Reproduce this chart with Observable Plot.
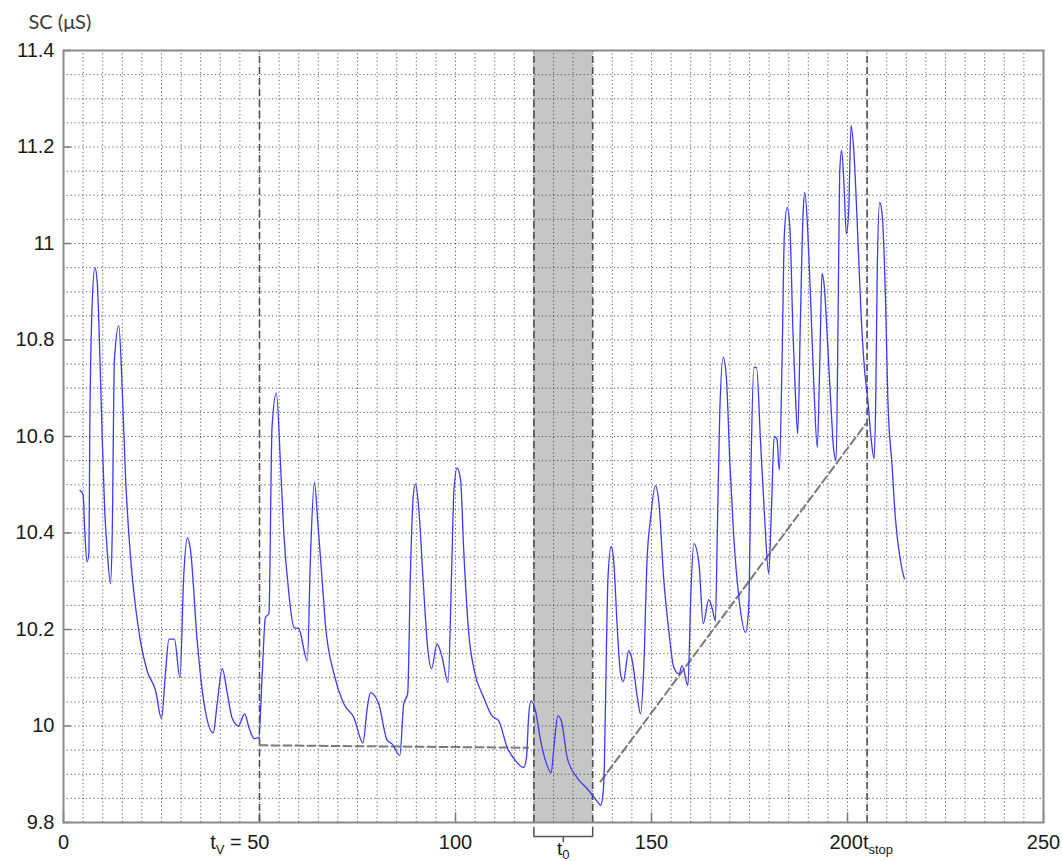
<!DOCTYPE html>
<html>
<head>
<meta charset="utf-8">
<script src="https://cdn.jsdelivr.net/npm/d3@7"></script>
<script src="https://cdn.jsdelivr.net/npm/@observablehq/plot@0.6"></script>
<style>
  html, body { margin: 0; padding: 0; background: #fff; }
  #chart svg { display: block; }
</style>
</head>
<body>
<div id="chart"></div>
<script>
// Skin conductance trace (time in s, SC in µS)
const timeS = [4.2,5.0,5.4,6.0,6.5,6.7,7.3,8.0,8.6,9.3,9.9,10.5,11.1,12.0,12.4,13.0,14.1,15.0,15.8,17.1,18.4,19.6,21.3,23.5,25.0,26.0,26.9,28.3,29.7,30.7,31.6,32.4,34.1,35.8,38.2,39.2,40.5,41.8,43.0,44.6,46.2,47.3,48.6,49.8,50.7,51.5,52.4,53.2,54.3,55.4,56.2,57.5,58.8,60.0,62.2,63.0,64.0,64.9,66.0,66.8,69.0,71.5,74.1,76.4,77.5,78.3,80.4,82.6,83.8,85.8,86.8,87.8,88.5,89.2,89.8,90.6,91.9,92.9,93.9,95.3,96.6,98.1,99.0,99.6,100.4,101.3,102.1,103.4,104.8,107.2,109.3,111.0,113.2,115.3,117.4,118.1,118.7,119.3,120.4,121.7,123.2,124.4,125.1,126.1,127.0,128.5,131.0,133.6,136.6,137.0,137.7,138.0,138.5,138.9,139.7,140.4,141.3,142.1,142.8,144.2,145.1,146.4,147.2,148.0,148.9,149.7,151.0,151.9,153.1,154.4,155.7,157.0,157.8,159.3,160.0,160.8,162.1,163.2,164.6,165.5,166.3,166.8,167.4,168.3,169.1,170.0,171.0,172.3,174.0,174.8,175.4,176.1,176.8,177.8,178.8,179.9,180.6,181.3,182.0,182.6,183.3,183.9,184.6,185.3,186.1,186.7,187.3,188.0,188.7,189.1,189.9,190.6,191.4,192.3,192.9,193.5,194.1,194.8,195.7,196.5,197.1,197.6,198.0,198.5,199.1,199.7,200.3,200.9,201.6,202.6,203.5,204.3,205.2,205.9,206.8,207.2,207.6,208.2,208.9,209.7,210.3,211.4,212.2,213.5,214.5];
const scValues = [10.488,10.48,10.41,10.34,10.36,10.61,10.87,10.95,10.92,10.76,10.59,10.45,10.37,10.295,10.385,10.76,10.83,10.695,10.52,10.35,10.245,10.177,10.115,10.073,10.015,10.108,10.18,10.18,10.10,10.316,10.39,10.364,10.177,10.05,9.986,10.046,10.119,10.067,10.017,10.0,10.025,9.997,9.974,9.976,10.108,10.225,10.233,10.62,10.69,10.535,10.40,10.274,10.204,10.202,10.135,10.35,10.505,10.42,10.30,10.212,10.108,10.046,10.017,9.965,10.038,10.069,10.046,9.97,9.963,9.939,10.046,10.067,10.316,10.474,10.502,10.453,10.28,10.162,10.119,10.17,10.142,10.09,10.316,10.488,10.535,10.509,10.364,10.19,10.115,10.059,10.021,10.011,9.955,9.928,9.914,9.934,10.025,10.052,10.032,9.97,9.922,9.903,9.955,10.021,10.011,9.934,9.893,9.87,9.839,9.835,9.866,9.928,10.162,10.307,10.372,10.337,10.198,10.108,10.092,10.156,10.135,10.059,10.025,10.115,10.35,10.426,10.498,10.461,10.307,10.198,10.121,10.108,10.125,10.084,10.266,10.378,10.337,10.212,10.262,10.243,10.218,10.405,10.647,10.764,10.722,10.544,10.39,10.266,10.194,10.245,10.544,10.743,10.743,10.592,10.44,10.316,10.45,10.60,10.595,10.53,10.755,11.02,11.075,11.033,10.813,10.689,10.606,10.847,11.068,11.106,11.02,10.882,10.71,10.577,10.743,10.938,10.909,10.813,10.675,10.571,10.55,10.847,11.145,11.193,11.124,11.02,11.068,11.245,11.193,11.02,10.847,10.743,10.675,10.606,10.554,10.675,10.95,11.085,11.054,10.882,10.675,10.536,10.432,10.343,10.305];

// Event markers and reference lines
const markerTimes = [50, 120, 135, 205];
const bandStart = 120, bandEnd = 135;
const baselineT = [50, 118.5];
const baselineSC = [9.96, 9.955];
const trendT = [137, 205];
const trendSC = [9.885, 10.63];
const bracketT = [120, 120, 135, 135];
const bracketSC = [9.79, 9.771, 9.771, 9.79];
const bracketMidT = [127.5];

// Axes
const xTicks = [0, 50, 100, 150, 200, 250];
const xTickLabels = ["0", "tV = 50", "100", "150", "200tstop", "250"];
const yTicks = [9.8, 10, 10.2, 10.4, 10.6, 10.8, 11, 11.2, 11.4];
const xGrid = d3.range(0, 251, 5);
const yGrid = d3.range(0, 33).map(i => 9.8 + i * 0.05);

const data = timeS.map((t, i) => ({t, sc: scValues[i]}));
const baseline = baselineT.map((t, i) => ({t, sc: baselineSC[i]}));
const trend = trendT.map((t, i) => ({t, sc: trendSC[i]}));
const bracket = bracketT.map((t, i) => ({t, sc: bracketSC[i]}));

const gridStyle = {stroke: "#444", strokeWidth: 1, strokeDasharray: "1.2,2.6", strokeOpacity: 0.85};

const chart = Plot.plot({
  width: 1062,
  height: 861,
  marginLeft: 63,
  marginRight: 19,
  marginTop: 50,
  marginBottom: 39,
  style: {fontFamily: "'Liberation Sans', Arial, sans-serif", fontSize: "20px", color: "#1a1a1a", background: "#fff"},
  x: {domain: [0, 250], ticks: xTicks, tickFormat: (d) => xTickLabels[xTicks.indexOf(d)], tickSize: 0, tickPadding: 12, label: null},
  y: {domain: [9.8, 11.4], ticks: yTicks, tickFormat: (d) => String(+d.toFixed(1)), tickSize: 0, tickPadding: 9, label: null},
  marks: [
    Plot.rect([0], {x1: bandStart, x2: bandEnd, y1: 9.8, y2: 11.4, fill: "#c6c6c6"}),
    Plot.ruleX(xGrid, {...gridStyle, y1: 9.8, y2: 11.4}),
    Plot.ruleY(yGrid, {...gridStyle, x1: 0, x2: 250}),
    Plot.ruleY(yTicks, {x1: 0, x2: 2, stroke: "#777", strokeWidth: 1.5}),
    Plot.ruleX(xTicks, {y1: 9.8, y2: 9.82, stroke: "#777", strokeWidth: 1.5}),
    Plot.ruleX(markerTimes, {y1: 9.8, y2: 11.4, stroke: "#505050", strokeWidth: 1.6, strokeDasharray: "7,4"}),
    Plot.line(baseline, {x: "t", y: "sc", stroke: "#7a7a7a", strokeWidth: 2, strokeDasharray: "8,4"}),
    Plot.line(trend, {x: "t", y: "sc", stroke: "#7a7a7a", strokeWidth: 2, strokeDasharray: "8,4"}),
    Plot.line(data, {x: "t", y: "sc", stroke: "#3b3bff", strokeWidth: 1.3, curve: "monotone-x"}),
    Plot.frame({stroke: "#8a8a8a", strokeWidth: 2}),
    Plot.line(bracket, {x: "t", y: "sc", stroke: "#555", strokeWidth: 1.5}),
    Plot.ruleX(bracketMidT, {y1: 9.771, y2: 9.758, stroke: "#555", strokeWidth: 1.5}),
    Plot.text(["t0"], {x: bracketMidT, y: [9.8], dy: 26, lineAnchor: "middle", fontSize: 19, fill: "#1a1a1a"}),
    Plot.text(["SC (μS)"], {frameAnchor: "top-left", dx: -35, dy: -28, textAnchor: "start", lineAnchor: "middle", fontSize: 20, fontFamily: "Lato, 'Open Sans', sans-serif", fill: "#3a3a3a"})
  ]
});

document.getElementById("chart").appendChild(chart);

// Subscripts for the annotation labels
d3.select(chart).selectAll("text").each(function () {
  const s = this.textContent;
  if (s === "tV = 50") {
    this.innerHTML = 't<tspan font-size="13" dy="5">V</tspan><tspan dy="-5"> = 50</tspan>';
    this.setAttribute("text-anchor", "end");
    this.setAttribute("dx", "10");
  } else if (s === "200tstop") {
    this.innerHTML = '200<tspan>t</tspan><tspan font-size="13" dy="5">stop</tspan>';
    this.setAttribute("text-anchor", "start");
    this.setAttribute("dx", "-18");
  } else if (s === "t0") {
    this.innerHTML = 't<tspan font-size="13" dy="4">0</tspan>';
  }
});
</script>
</body>
</html>
